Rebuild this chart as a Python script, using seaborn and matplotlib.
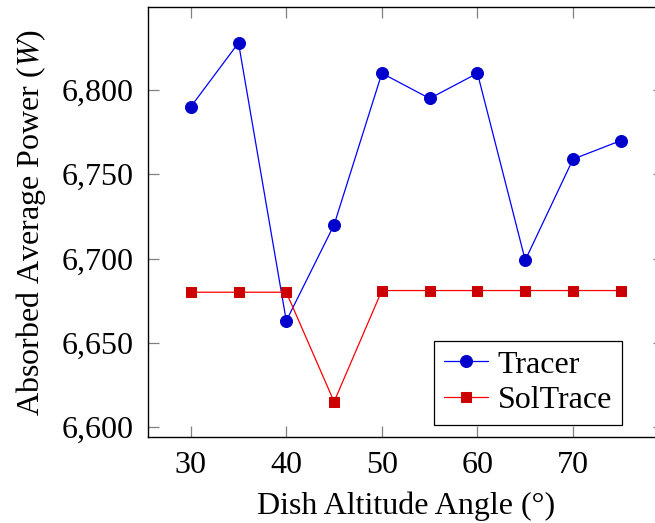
import matplotlib
matplotlib.use("Agg")
import matplotlib.pyplot as plt
import matplotlib.ticker as mticker
import seaborn as sns
import pandas as pd

# Absorbed power versus dish altitude angle for two ray tracers
angles = [30, 35, 40, 45, 50, 55, 60, 65, 70, 75]
tracer = [6790, 6828, 6663, 6720, 6810, 6795, 6810, 6699, 6759, 6770]
soltrace = [6680, 6680, 6680, 6615, 6681, 6681, 6681, 6681, 6681, 6681]
series_names = ["Tracer", "SolTrace"]
x_ticks = [30, 40, 50, 60, 70]
y_ticks = [6600, 6650, 6700, 6750, 6800]

df = pd.DataFrame({"angle": angles, "Tracer": tracer, "SolTrace": soltrace})

sns.set_theme(style="ticks")
plt.rcParams["font.family"] = ["Liberation Serif", "DejaVu Serif"]
plt.rcParams["mathtext.fontset"] = "stix"
plt.rcParams["text.color"] = "black"
plt.rcParams["axes.labelcolor"] = "black"

FS = 23
fig = plt.figure(figsize=(6.55, 5.23), dpi=100)
ax = fig.add_axes([0.2255, 0.1639, 0.788, 0.8227])

styles = {
    "Tracer": dict(color="#0000ff", marker="o", mfc="#0000cc", mec="#0000cc", ms=8.6),
    "SolTrace": dict(color="#ff0000", marker="s", mfc="#cc0000", mec="#cc0000", ms=7.6),
}
for name in series_names:
    st = styles[name]
    sns.lineplot(data=df, x="angle", y=name, ax=ax, color=st["color"], lw=0.9,
                 marker=st["marker"], markerfacecolor=st["mfc"],
                 markeredgecolor=st["mec"], markersize=st["ms"], label=name)

ax.set_xlim(25.5, 79.5)
ax.set_ylim(6593.9, 6849.3)
ax.set_xticks(x_ticks)
ax.set_yticks(y_ticks)
ax.yaxis.set_major_formatter(mticker.FuncFormatter(lambda v, p: f"{int(v):,}"))
ax.tick_params(direction="in", length=8, width=0.9, color="#808080",
               top=True, right=True, labelsize=FS, pad=10, labelcolor="black")
for s in ax.spines.values():
    s.set_color("black")
    s.set_linewidth(1.0)

ax.set_xlabel("Dish Altitude Angle (°)", fontsize=FS, labelpad=8, color="black")
ax.set_ylabel("Absorbed Average Power ($W$)", fontsize=FS, labelpad=10, color="black")

leg = ax.legend(loc="lower right", bbox_to_anchor=(0.9186, 0.0286), fontsize=FS,
                frameon=True, fancybox=False, edgecolor="black", framealpha=1,
                handlelength=1.4, handletextpad=0.3, borderpad=0.3,
                labelspacing=0.2, borderaxespad=0)
leg.get_frame().set_linewidth(0.9)
for t in leg.get_texts():
    t.set_color("black")

fig.savefig("out.png", dpi=100)
